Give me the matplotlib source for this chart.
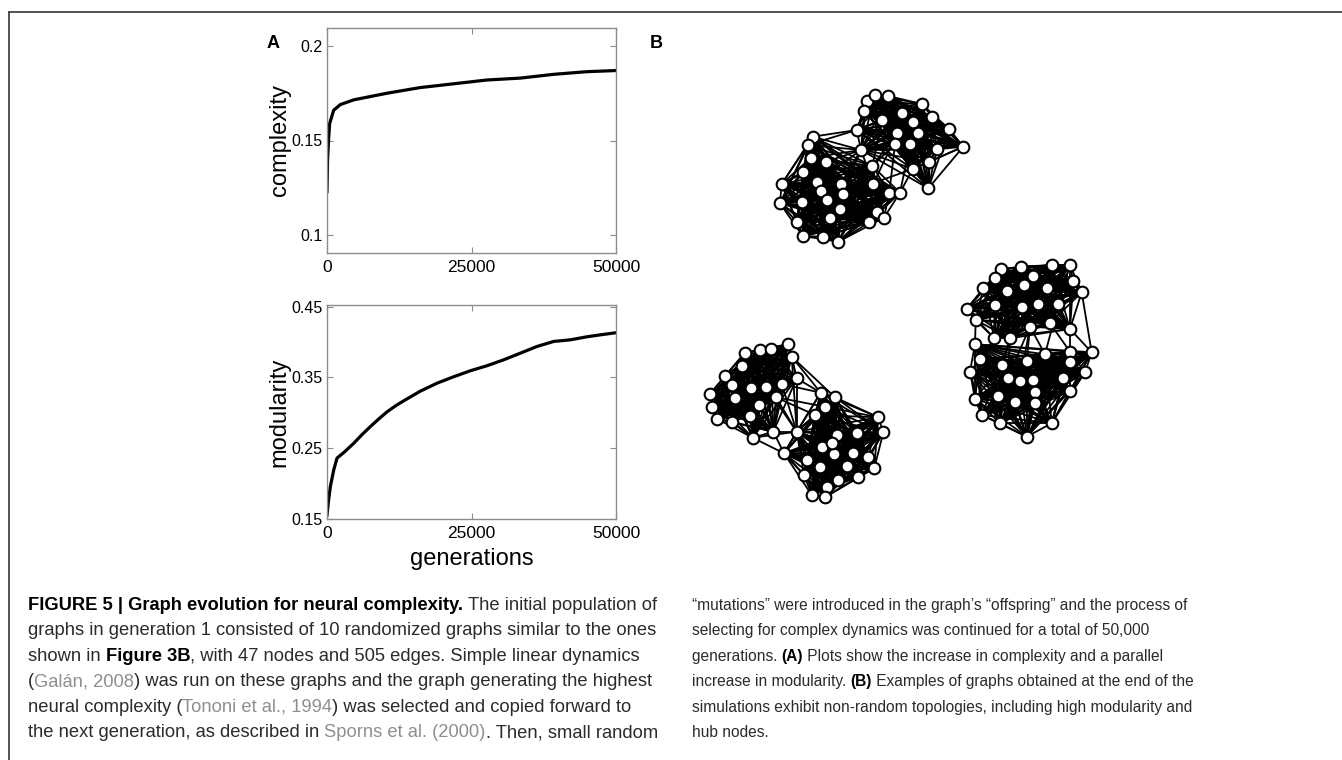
import numpy as np
import matplotlib
matplotlib.use("Agg")
import matplotlib.pyplot as plt
from matplotlib.collections import LineCollection
from matplotlib.lines import Line2D
from matplotlib.font_manager import FontProperties, fontManager

plt.rcParams['font.family'] = ['Liberation Sans', 'DejaVu Sans']

# --- panel A data ---
gen_c = [0, 100, 300, 461, 1153, 2307, 4614, 10381, 16148, 21915, 27682, 33449, 39216, 44983, 50000]
cplx = [0.123, 0.140, 0.152, 0.159, 0.166, 0.169, 0.1715, 0.175, 0.178, 0.180, 0.182,
        0.183, 0.185, 0.1864, 0.187]

gen_m = [0, 300, 577, 1153, 1730, 2884, 4614, 6000, 7497, 9000, 10381, 12000, 13264, 16148,
         19031, 21915, 24798, 27682, 30565, 33449, 36332, 39216, 42099, 44983, 47500, 50000]
modu = [0.155, 0.178, 0.1953, 0.2186, 0.2357, 0.2435, 0.2566, 0.2685, 0.2803, 0.2915,
        0.3012, 0.3105, 0.3168, 0.3305, 0.3418, 0.3509, 0.3594, 0.3665, 0.3749, 0.3843,
        0.3938, 0.4009, 0.4032, 0.4075, 0.4105, 0.4132]

# --- panel B: three example graphs, node layout in picture pixels ---
g1_x = [866.7, 875.0, 888.3, 864.3, 921.7, 901.7, 913.3, 932.3, 882.3, 856.7, 897.3, 918.3,
        949.3, 963.3, 861.0, 895.0, 910.0, 936.7, 929.3, 912.7, 872.3, 928.3, 812.7, 807.7,
        811.0, 826.0, 803.3, 781.7, 816.7, 841.0, 780.0, 801.7, 821.0, 826.7, 842.7, 873.3,
        889.3, 900.0, 840.0, 876.7, 884.0, 869.3, 796.7, 830.0, 802.7, 823.3, 838.3]
g1_y = [101.0, 95.0, 96.0, 111.0, 104.0, 113.3, 121.7, 116.7, 120.0, 130.0, 133.3, 133.3,
        129.3, 146.7, 150.0, 144.3, 144.3, 149.3, 161.7, 169.0, 166.0, 188.3, 136.7, 145.0,
        157.7, 161.7, 171.7, 184.0, 181.7, 184.0, 203.3, 201.7, 190.7, 200.0, 194.0, 184.0,
        192.7, 192.7, 209.3, 211.7, 217.7, 222.3, 221.7, 217.7, 236.0, 236.7, 241.7]
g1_mod = [0] * 20 + [1] + [0] + [1] * 25
g1_links = [(15, 23), (15, 24), (15, 25), (15, 26), (15, 29), (15, 30), (15, 35), (15, 36),
            (10, 23), (10, 24), (21, 9), (21, 16), (21, 11), (37, 16), (38, 17), (38, 20),
            (36, 11), (20, 35)]

g2_x = [787.7, 760.0, 770.7, 745.0, 791.7, 741.7, 725.0, 796.7, 731.7, 750.7, 710.0, 766.0,
        781.7, 735.0, 759.3, 776.0, 711.7, 750.0, 717.3, 731.7, 752.7, 820.7, 835.0, 825.0,
        815.0, 796.7, 773.3, 878.3, 883.3, 857.3, 836.7, 784.0, 821.7, 834.3, 852.7, 868.3,
        874.3, 804.0, 820.0, 846.7, 858.3, 838.3, 826.7, 811.7, 825.0, 831.7, 806.7]
g2_y = [344.3, 350.0, 349.3, 352.7, 356.7, 366.0, 376.0, 378.3, 385.0, 388.3, 394.0, 386.7,
        384.0, 398.3, 405.0, 397.3, 406.7, 415.7, 419.0, 421.7, 437.7, 392.7, 397.3, 406.7,
        415.0, 431.7, 431.7, 417.3, 432.3, 432.7, 435.0, 453.3, 446.7, 454.0, 452.7, 456.7,
        468.3, 475.0, 466.7, 466.0, 476.7, 480.0, 486.7, 495.0, 497.3, 443.3, 460.0]
g2_mod = [0] * 21 + [1] * 5 + [0] + [1] * 20
g2_links = [(26, 5), (26, 8), (26, 13), (26, 16), (26, 12), (26, 27), (26, 21), (22, 8),
            (22, 5), (22, 13), (24, 16), (25, 16), (32, 27), (32, 21), (23, 5)]

g3_x = [1001.0, 1021.0, 1051.7, 1070.0, 995.0, 1033.3, 1073.3, 983.3, 1006.7, 1024.3,
        1046.7, 1081.7, 995.0, 1021.7, 1038.3, 1058.3, 966.7, 975.7, 1030.0, 1050.0, 1070.0,
        1010.0, 975.0, 994.3, 1091.7, 980.0, 1001.7, 1026.7, 1045.0, 1070.0, 1070.0, 970.0,
        1007.7, 1020.0, 1033.3, 1063.3, 1085.0, 975.0, 997.7, 1015.0, 1035.0, 1035.0, 1070.0,
        981.7, 1000.0, 1051.7, 1026.7]
g3_y = [269.0, 266.7, 265.0, 265.0, 277.7, 275.7, 281.0, 288.3, 291.0, 285.0, 288.3, 292.3,
        305.0, 306.7, 304.3, 304.3, 309.0, 320.0, 326.7, 323.3, 329.0, 338.3, 344.3, 338.3,
        352.3, 359.0, 365.0, 361.0, 354.3, 351.7, 361.7, 371.7, 377.7, 381.0, 380.0, 378.3,
        372.3, 399.0, 395.7, 401.7, 391.7, 403.3, 391.0, 415.0, 423.3, 423.3, 436.7]
g3_mod = [0] * 22 + [1] + [0] + [1] * 23
g3_links = [(19, 28), (19, 29), (19, 33), (19, 34), (22, 27), (22, 33), (24, 26), (20, 30),
            (21, 25), (21, 30), (18, 23), (16, 29), (14, 27), (12, 25)]

# --- caption ---
cap_left = [
    [("FIGURE 5 | Graph evolution for neural complexity. ", "b"), ("The initial population of", "n")],
    [("graphs in generation 1 consisted of 10 randomized graphs similar to the ones", "n")],
    [("shown in ", "n"), ("Figure 3B", "b"), (", with 47 nodes and 505 edges. Simple linear dynamics", "n")],
    [("(", "n"), ("Galán, 2008", "g"), (") was run on these graphs and the graph generating the highest", "n")],
    [("neural complexity (", "n"), ("Tononi et al., 1994", "g"), (") was selected and copied forward to", "n")],
    [("the next generation, as described in ", "n"), ("Sporns et al. (2000)", "g"), (". Then, small random", "n")],
]
cap_right = [
    [("\u201cmutations\u201d were introduced in the graph\u2019s \u201coffspring\u201d and the process of", "n")],
    [("selecting for complex dynamics was continued for a total of 50,000", "n")],
    [("generations. ", "n"), ("(A)", "b"), (" Plots show the increase in complexity and a parallel", "n")],
    [("increase in modularity. ", "n"), ("(B)", "b"), (" Examples of graphs obtained at the end of the", "n")],
    [("simulations exhibit non-random topologies, including high modularity and", "n")],
    [("hub nodes.", "n")],
]

W, H = 1342, 760
fig = plt.figure(figsize=(W / 100, H / 100), dpi=100)


def px_axes(x0, y0, x1, y1):
    return fig.add_axes([x0 / W, 1 - y1 / H, (x1 - x0) / W, (y1 - y0) / H])


def style_axes(ax):
    for s in ax.spines.values():
        s.set_color('#8c8c8c')
        s.set_linewidth(1.0)
    ax.tick_params(direction='in', length=4, width=0.8, color='#8c8c8c',
                   top=True, right=True)
    ax.tick_params(axis='x', labelsize=12.5, pad=5)
    ax.tick_params(axis='y', labelsize=11.5, pad=3)


# complexity
ax1 = px_axes(327, 28, 616, 253)
ax1.plot(gen_c, cplx, color='black', lw=2.3)
ax1.set_xlim(0, 50000)
ax1.set_ylim(0.0905, 0.2095)
ax1.set_xticks([0, 25000, 50000])
ax1.set_xticklabels(["0", "25000", "50000"])
ax1.set_yticks([0.1, 0.15, 0.2])
ax1.set_yticklabels(["0.1", "0.15", "0.2"])
style_axes(ax1)
ax1.set_ylabel("complexity", fontsize=17)
ax1.yaxis.set_label_coords(-0.125, 0.5)

# modularity
ax2 = px_axes(327, 305, 616, 519)
ax2.plot(gen_m, modu, color='black', lw=2.3)
ax2.set_xlim(0, 50000)
ax2.set_ylim(0.1495, 0.4525)
ax2.set_xticks([0, 25000, 50000])
ax2.set_xticklabels(["0", "25000", "50000"])
ax2.set_yticks([0.15, 0.25, 0.35, 0.45])
ax2.set_yticklabels(["0.15", "0.25", "0.35", "0.45"])
style_axes(ax2)
ax2.set_ylabel("modularity", fontsize=17)
ax2.yaxis.set_label_coords(-0.125, 0.5)
ax2.set_xlabel("generations", fontsize=17)
ax2.xaxis.set_label_coords(0.5, -0.135)

fig.text(273 / W, 1 - 43 / H, "A", fontsize=13, fontweight='bold', ha='center', va='center')
fig.text(656 / W, 1 - 43 / H, "B", fontsize=13, fontweight='bold', ha='center', va='center')

# graphs
axg = px_axes(660, 80, 1120, 510)
axg.set_xlim(660, 1120)
axg.set_ylim(510, 80)
axg.axis('off')


def draw_graph(ax, xs, ys, mods, links):
    segs = []
    n = len(xs)
    for i in range(n):
        for j in range(i + 1, n):
            if mods[i] == mods[j]:
                segs.append([(xs[i], ys[i]), (xs[j], ys[j])])
    for i, j in links:
        segs.append([(xs[i - 1], ys[i - 1]), (xs[j - 1], ys[j - 1])])
    ax.add_collection(LineCollection(segs, colors='black', linewidths=1.3, zorder=1))
    ax.plot(xs, ys, 'o', ls='none', ms=8.4, mfc='white', mec='black', mew=1.5, zorder=2)


draw_graph(axg, g1_x, g1_y, g1_mod, g1_links)
draw_graph(axg, g2_x, g2_y, g2_mod, g2_links)
draw_graph(axg, g3_x, g3_y, g3_mod, g3_links)

# frame lines
fig.add_artist(Line2D([9 / W, 1], [1 - 12 / H, 1 - 12 / H], color='#444444', lw=1.3,
                      transform=fig.transFigure))
fig.add_artist(Line2D([9 / W, 9 / W], [0, 1 - 12 / H], color='#444444', lw=1.3,
                      transform=fig.transFigure))

# caption with mixed styles
renderer = fig.canvas.get_renderer()
styles = {
    "n": dict(color='#2b2b2b', weight='normal'),
    "b": dict(color='black', weight='bold'),
    "g": dict(color='#8f8f8f', weight='normal'),
}
installed = {f.name for f in fontManager.ttflist}
if 'Liberation Sans Narrow' in installed:
    right_font, right_fs = 'Liberation Sans Narrow', 13.2
else:
    right_font, right_fs = 'Liberation Sans', 11.2


def seg_width(s, weight, fs, family):
    prop = FontProperties(family=[family], size=fs, weight=weight)
    w1 = renderer.get_text_width_height_descent("|" + s + "|", prop, ismath=False)[0]
    w0 = renderer.get_text_width_height_descent("||", prop, ismath=False)[0]
    return w1 - w0


def caption(x0, lines, y0, dy, fs, family):
    for k, parts in enumerate(lines):
        x = x0
        y = y0 + k * dy
        for s, st in parts:
            fig.text(x / W, 1 - y / H, s, fontsize=fs, ha='left', va='baseline',
                     color=styles[st]['color'], fontweight=styles[st]['weight'],
                     family=[family])
            x += seg_width(s, styles[st]['weight'], fs, family)


caption(28, cap_left, 610, 25.4, 13.2, 'Liberation Sans')
caption(692, cap_right, 610, 25.4, right_fs, right_font)

fig.savefig("out.png", dpi=100)
